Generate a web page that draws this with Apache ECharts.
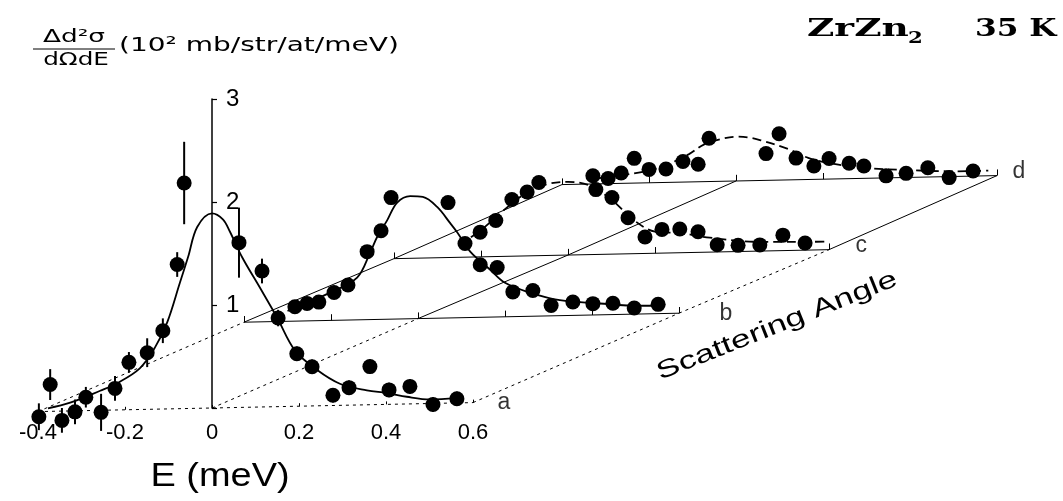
<!DOCTYPE html>
<html><head><meta charset="utf-8">
<script src="https://cdn.jsdelivr.net/npm/echarts@6/dist/echarts.min.js"></script>
<style>html,body{margin:0;padding:0;background:#fff}#chart{width:1063px;height:501px}</style>
</head><body><div id="chart"></div>
<script>
// ---------- data ----------
const curveNames = ['a', 'b', 'c', 'd'];
const eTickValues = [-0.4, -0.2, 0, 0.2, 0.4, 0.6];
const zTickValues = [1, 2, 3];
const obliqueE = [-0.4, 0, 0.6];

const aE   = [-0.398,-0.372,-0.345,-0.315,-0.290,-0.255,-0.223,-0.191,-0.149,-0.113,-0.080,-0.064,0.062,0.115,0.152,0.195,0.230,0.278,0.315,0.363,0.407,0.455,0.508,0.563];
const aZ   = [-0.05,0.26,-0.09,-0.01,0.13,-0.02,0.21,0.46,0.55,0.76,1.40,2.19,1.60,1.32,0.86,0.51,0.38,0.10,0.17,0.37,0.14,0.17,-0.01,0.04];
const aErr = [0.13,0.15,0.12,0.12,0.10,0.18,0.12,0.10,0.14,0.12,0.12,0.40,0.34,0.12,0.08,0.07,0.07,0.07,0.07,0.07,0.07,0.07,0.07,0.07];
const aFitE = [-0.377,-0.326,-0.257,-0.218,-0.166,-0.131,-0.103,-0.074,-0.055,-0.034,0,0.025,0.041,0.069,0.110,0.149,0.191,0.241,0.294,0.356,0.402,0.448,0.501,0.563];
const aFitZ = [0.03,0.08,0.19,0.26,0.40,0.60,0.84,1.22,1.47,1.76,1.89,1.83,1.71,1.46,1.16,0.87,0.54,0.35,0.21,0.14,0.11,0.07,0.04,0.05];

const bE = [-0.283,-0.255,-0.228,-0.193,-0.161,-0.117,-0.085,-0.062,0.069,0.108,0.143,0.182,0.218,0.264,0.306,0.356,0.402,0.448,0.497,0.552];
const bZ = [0.14,0.17,0.18,0.27,0.34,0.66,0.86,1.18,1.12,0.72,0.51,0.48,0.24,0.25,0.10,0.13,0.11,0.11,0.06,0.09];
const bFitE = [-0.30,-0.202,-0.140,-0.110,-0.094,-0.071,-0.048,-0.018,0.011,0.044,0.074,0.090,0.12,0.166,0.20,0.257,0.326,0.418,0.51,0.568];
const bFitZ = [0.10,0.27,0.41,0.65,0.80,0.96,1.13,1.19,1.18,1.08,0.92,0.83,0.64,0.46,0.33,0.23,0.15,0.11,0.08,0.08];

const cE = [-0.202,-0.166,-0.129,-0.094,-0.067,0.064,0.101,0.138,0.177,0.216,0.257,0.299,0.343,0.391,0.441,0.494,0.545];
const cZ = [0.24,0.35,0.55,0.62,0.71,0.63,0.55,0.35,0.16,0.23,0.23,0.20,0.07,0.06,0.06,0.15,0.07];
const cFitE = [-0.25,-0.20,-0.15,-0.10,-0.05,0,0.05,0.10,0.15,0.20,0.26,0.326,0.44,0.55,0.60];
const cFitZ = [0.12,0.26,0.44,0.60,0.69,0.71,0.67,0.53,0.33,0.21,0.19,0.14,0.09,0.08,0.08];

const dE = [-0.329,-0.294,-0.264,-0.234,-0.200,-0.161,-0.122,-0.087,-0.062,0.069,0.099,0.138,0.179,0.214,0.260,0.294,0.345,0.391,0.441,0.490,0.545];
const dZ = [0.08,0.05,0.10,0.24,0.13,0.13,0.20,0.17,0.42,0.26,0.45,0.21,0.13,0.20,0.15,0.12,0.02,0.04,0.09,-0.01,0.05];
const dFitE = [-0.33,-0.26,-0.20,-0.16,-0.108,-0.074,-0.034,0,0.028,0.057,0.12,0.166,0.22,0.30,0.40,0.50,0.58];
const dFitZ = [0.05,0.08,0.12,0.17,0.27,0.36,0.41,0.43,0.42,0.39,0.30,0.21,0.15,0.10,0.07,0.05,0.05];

// ---------- oblique projection of the scattering-angle axis ----------
const PROJ = { ox: [0, 0.4736, 0.8184, 1.2046], oz: [0, 0.868, 1.485, 2.204], tilt: 0.0874 };
function proj(s, E, z) { return [E + PROJ.ox[s], z + PROJ.oz[s] + PROJ.tilt * E]; }

const pts = [[aE, aZ], [bE, bZ], [cE, cZ], [dE, dZ]];
const fits = [[aFitE, aFitZ], [bFitE, bFitZ], [cFitE, cFitZ], [dFitE, dFitZ]];

// frame segments
const solidSeg = [], dottedSeg = [];
for (let s = 0; s < 4; s++) {
  const target = s === 0 ? dottedSeg : solidSeg;
  target.push({ coords: [proj(s, eTickValues[0], 0), proj(s, eTickValues[eTickValues.length - 1], 0)] });
  eTickValues.forEach(E => target.push({ coords: [proj(s, E, 0), proj(s, E, 0.06)] }));
}
obliqueE.forEach(E => {
  for (let s = 0; s < 3; s++) {
    const dotted = s === 0 || (s === 1 && E === 0.6);
    (dotted ? dottedSeg : solidSeg).push({ coords: [proj(s, E, 0), proj(s + 1, E, 0)] });
  }
});

const black = '#000';
const series = [
  { type: 'lines', coordinateSystem: 'cartesian2d', polyline: false, silent: true, z: 1, clip: false,
    lineStyle: { color: black, width: 1, opacity: 1 }, data: solidSeg },
  { type: 'lines', coordinateSystem: 'cartesian2d', polyline: false, silent: true, z: 1, clip: false,
    lineStyle: { color: black, width: 1, type: [3, 4], opacity: 1 }, data: dottedSeg }
];
const fitDash = ['solid', 'solid', [9, 5], [9, 5]];
fits.forEach((f, s) => {
  series.push({ type: 'line', name: 'fit ' + curveNames[s], smooth: 0.35, showSymbol: false, silent: true, z: 2, clip: false,
    lineStyle: { color: black, width: 1.8, type: fitDash[s], opacity: 1 },
    data: f[0].map((E, i) => proj(s, E, f[1][i])) });
});
series.push({ type: 'custom', name: 'err a', z: 3, silent: true, clip: false,
  renderItem: (params, api) => {
    const p1 = api.coord([api.value(0), api.value(1)]);
    const p2 = api.coord([api.value(0), api.value(2)]);
    return { type: 'line', shape: { x1: p1[0], y1: p1[1], x2: p2[0], y2: p2[1] }, style: { stroke: black, lineWidth: 2 } };
  },
  data: aE.map((E, i) => { const lo = proj(0, E, aZ[i] - aErr[i]), hi = proj(0, E, aZ[i] + aErr[i]); return [lo[0], lo[1], hi[1]]; })
});
pts.forEach((p, s) => {
  series.push({ type: 'scatter', name: curveNames[s], symbol: 'circle', symbolSize: 15, z: 4, silent: true, clip: false,
    itemStyle: { color: black, opacity: 1 }, data: p[0].map((E, i) => proj(s, E, p[1][i])) });
});
const labelDist = [24, 40, 26, 15];
const labelDy = [0, 0, -4, -4];
series.push({ type: 'scatter', name: 'curve labels', symbolSize: 1, z: 5, silent: true, clip: false,
  itemStyle: { color: 'rgba(0,0,0,0)' },
  data: curveNames.map((n, s) => ({ value: proj(s, 0.6, 0), name: n,
    label: { show: true, position: 'right', distance: labelDist[s], offset: [0, labelDy[s]], formatter: n,
      color: black, fontSize: 23, fontFamily: 'Liberation Sans' } })) });

const xMin = -0.4, xMax = 1.8, gridLeft = 38, gridWidth = 957;
const zeroOffset = -(0 - xMin) / (xMax - xMin) * gridWidth; // place z-axis at E = 0

const chart = echarts.init(document.getElementById('chart'), null, { renderer: 'canvas' });
chart.setOption({
  backgroundColor: '#fff',
  animation: false,
  grid: { left: gridLeft, top: 99, width: gridWidth, height: 309, containLabel: false, outerBoundsMode: 'none' },
  xAxis: { type: 'value', min: xMin, max: xMax, interval: 0.2,
    axisLine: { show: false, onZero: false }, axisTick: { show: false }, splitLine: { show: false },
    axisLabel: { show: true, margin: 14, color: black, fontSize: 22, fontFamily: 'Liberation Sans',
      formatter: v => (v <= 0.61 ? String(Math.round(v * 10) / 10) : '') } },
  yAxis: { type: 'value', min: 0, max: 3, interval: 1, position: 'left', offset: zeroOffset,
    axisLine: { show: true, onZero: false, lineStyle: { color: black, width: 1.5 } },
    axisTick: { show: true, inside: true, length: 5, lineStyle: { color: black, width: 1.2 } },
    splitLine: { show: false },
    axisLabel: { show: true, inside: true, margin: 14, color: black, fontSize: 24, fontFamily: 'Liberation Sans',
      formatter: v => (zTickValues.indexOf(v) >= 0 ? String(v) : '') } },
  graphic: [
    { type: 'text', x: 807, y: 29, style: { text: 'ZrZn', font: 'bold 25px "DejaVu Serif"', fill: black, verticalAlign: 'middle' }, scaleX: 1.5 },
    { type: 'text', x: 908, y: 39, style: { text: '2', font: 'bold 17px "DejaVu Serif"', fill: black, verticalAlign: 'middle' }, scaleX: 1.25 },
    { type: 'text', x: 975, y: 29, style: { text: '35 K', font: 'bold 25px "DejaVu Serif"', fill: black, verticalAlign: 'middle' }, scaleX: 1.25 },
    { type: 'text', x: 74, y: 38, style: { text: 'Δd²σ', font: '17px "DejaVu Sans"', fill: black, align: 'center', verticalAlign: 'middle' }, scaleX: 1.55 },
    { type: 'line', shape: { x1: 33, y1: 49, x2: 115, y2: 49 }, style: { stroke: black, lineWidth: 1 } },
    { type: 'text', x: 76, y: 61, style: { text: 'dΩdE', font: '17px "DejaVu Sans"', fill: black, align: 'center', verticalAlign: 'middle' }, scaleX: 1.45 },
    { type: 'text', x: 119, y: 46, style: { text: '(10² mb/str/at/meV)', font: '20px "DejaVu Sans"', fill: black, verticalAlign: 'middle' }, scaleX: 1.4 },
    { type: 'text', x: 220, y: 477, style: { text: 'E (meV)', font: '33px "Liberation Sans"', fill: black, align: 'center', verticalAlign: 'middle' }, scaleX: 1.15 },
    { type: 'text', x: 777, y: 326, rotation: 0.38, style: { text: 'Scattering Angle', font: '25px "Liberation Sans"', fill: black, align: 'center', verticalAlign: 'middle' }, scaleX: 1.4 }
  ],
  series: series
});
</script></body></html>
